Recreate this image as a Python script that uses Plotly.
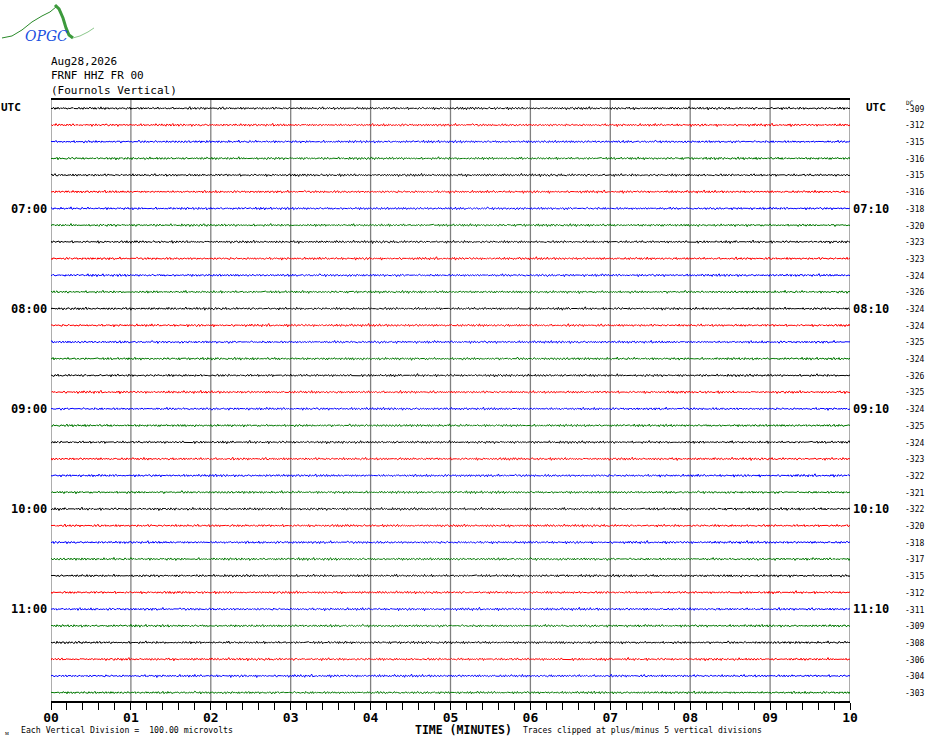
import plotly.graph_objects as go

# header text
title_lines = ["Aug28,2026", "FRNF HHZ FR 00", "(Fournols Vertical)"]

# x axis: minutes past the row start
minutes = [0, 1, 2, 3, 4, 5, 6, 7, 8, 9, 10]
minute_labels = ["00", "01", "02", "03", "04", "05", "06", "07", "08", "09", "10"]

# hour marks on both sides
hour_rows = [6, 12, 18, 24, 30]
left_hours = ["07:00", "08:00", "09:00", "10:00", "11:00"]
right_hours = ["07:10", "08:10", "09:10", "10:10", "11:10"]

# DC offset printed at the end of each row
dc_offsets = [-309, -312, -315, -316, -315, -316, -318, -320, -323, -323, -324, -326,
              -324, -324, -325, -324, -326, -325, -324, -325, -324, -323, -322, -321,
              -322, -320, -318, -317, -315, -312, -311, -309, -308, -306, -304, -303]

trace_colors = ["#000000", "#ff0000", "#0000ff", "#007800"]

# background noise, microvolts
wiggle_a = [3, -2, 4, 1, -5, 2, -1, 6, -3, 0, 2, -4, 5, -2, 1, 3, -6, 2, 0, -3,
            4, -1, 7, -2, -4, 3, 1, -2, 5, 0, -3, 2, -5, 4, 1, -1, 3, -4, 2, 8,
            -3, 0, 2, -2, 4, -5, 1, 3, -1, -3, 6, -2, 0, 2, -4, 3, -1, 5, -6, 2,
            1, -3, 4, 0, -2, 3, -1, -5, 2, 4, -3, 1, 6, -2, 0, -4, 3, 2, -1, 5,
            -3, 1, -2, 4, -6, 2, 0, 3, -1, -3, 5, -2, 1, 4, -4, 2, -1, 3, 0, -2]
wiggle_b = [1, -2, 0, 3, -1, 2, -3, 1, 0, -2, 2, 1, -1, 3, -2, 0, 1, -3, 2,
            -1, 0, 2, -2, 1, 3, -1, -2, 0, 2, -3, 1, 1, -1, 2, 0, -2, 1]

n_rows = 36
samples = 800
uv_per_row = 100.0


def px_x(px):
    return (px - 51) / 799.0


def px_y(py):
    return (700.7 - py) / 600.7


fig = go.Figure()

for row in range(n_rows):
    xs = []
    ys = []
    for k in range(samples + 1):
        w = wiggle_a[(k + 17 * row) % len(wiggle_a)] + wiggle_b[(k + 5 * row) % len(wiggle_b)]
        xs.append(10.0 * k / samples)
        ys.append(-row + w / uv_per_row)
    fig.add_trace(go.Scatter(x=xs, y=ys, mode='lines', showlegend=False, hoverinfo='skip',
                             line=dict(color=trace_colors[row % 4], width=1)))

shapes = []
for m in minutes:
    shapes.append(dict(type='line', xref='x', yref='paper', x0=m, x1=m, y0=0, y1=1,
                       line=dict(color='#808080', width=1.3), layer='below'))

# OPGC logo
def path_of(points):
    return "M " + " L ".join("%f,%f" % (px_x(a), px_y(b)) for a, b in points)


shapes.append(dict(type='path', xref='paper', yref='paper',
                   path=path_of([(2, 38), (12, 36), (22, 30), (32, 22), (42, 16), (50, 12), (56, 7)]),
                   line=dict(color='#2a8a2a', width=1)))
shapes.append(dict(type='path', xref='paper', yref='paper',
                   path=path_of([(55, 5), (59, 9), (63, 18), (66, 28), (69, 35), (73, 38)]),
                   line=dict(color='#3c9a3c', width=3)))
shapes.append(dict(type='path', xref='paper', yref='paper',
                   path=path_of([(73, 38), (80, 36), (88, 32), (94, 28)]),
                   line=dict(color='#8cc88c', width=1)))

mono = "DejaVu Sans Mono"
annotations = []


def label(text, x, y, size, xanchor='left', yref='paper', family=mono, color='black'):
    annotations.append(dict(text=text, xref='paper', yref=yref, x=x, y=y, xanchor=xanchor, yanchor='middle',
                            showarrow=False, font=dict(family=family, size=size, color=color)))


label("<i>OPGC</i>", px_x(46), px_y(36), 14, xanchor='center', family="DejaVu Serif", color='#2050e0')

for i, line in enumerate(title_lines):
    label(line, px_x(49), px_y([62, 76, 91][i]), 11)

label("<b>UTC</b>", px_x(-1), 0.05, 11, yref='y')
label("<b>UTC</b>", px_x(864), 0.05, 11, yref='y')

for r, lab in zip(hour_rows, left_hours):
    label("<b>%s</b>" % lab, px_x(49), -r, 12, xanchor='right', yref='y')
for r, lab in zip(hour_rows, right_hours):
    label("<b>%s</b>" % lab, px_x(851), -r, 12, yref='y')

for r, dc in enumerate(dc_offsets):
    label(str(dc), px_x(903), -r - 0.05, 8, yref='y')
label("DC", px_x(904), px_y(102), 6)

label("Each Vertical Division =  100.00 microvolts", px_x(19), px_y(730), 8.2)
label("ᴍ", px_x(3), px_y(732), 6)
label("<b>TIME (MINUTES)</b>", px_x(413), px_y(730), 11.5)
label("Traces clipped at plus/minus 5 vertical divisions", px_x(521), px_y(730), 8.1)

fig.update_layout(
    width=930, height=744,
    margin=dict(l=51, r=80, t=100, b=43, pad=0),
    paper_bgcolor='white', plot_bgcolor='white',
    shapes=shapes, annotations=annotations,
    xaxis=dict(range=[0, 10], tickvals=minutes, ticktext=["<b>%s</b>" % s for s in minute_labels],
               ticks='outside', ticklen=7, tickcolor='black', tickwidth=1, ticklabelstandoff=-3,
               showline=True, linecolor='black', linewidth=1.5, mirror=True, showgrid=False, zeroline=False,
               tickfont=dict(family=mono, size=13, color='black'),
               minor=dict(dtick=0.2, ticks='outside', ticklen=7, tickcolor='black', tickwidth=1, showgrid=False)),
    yaxis=dict(range=[-35.5, 0.5], visible=False, showgrid=False, zeroline=False),
)

# the page body has a default 8px margin; drop it so the figure sits at the window's corner
fig.write_html("out.html", config={'displayModeBar': False},
               post_script="document.body.style.margin='0';document.body.style.overflow='hidden';")
